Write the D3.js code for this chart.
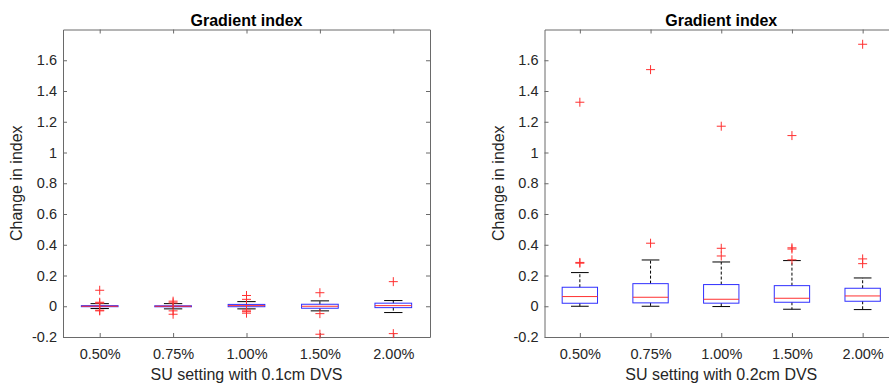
<!DOCTYPE html>
<html>
<head>
<meta charset="utf-8">
<script src="https://cdn.jsdelivr.net/npm/d3@7/dist/d3.min.js"></script>
<style>
  html, body { margin: 0; padding: 0; background: #fff; }
  svg { display: block; font-family: "Liberation Sans", Arial, Helvetica, sans-serif; }
</style>
</head>
<body>
<div id="chart"></div>
<script>
// categories and axis ticks
const categories = ["0.50%", "0.75%", "1.00%", "1.50%", "2.00%"];
const yTicks = [-0.2, 0, 0.2, 0.4, 0.6, 0.8, 1, 1.2, 1.4, 1.6];

// left panel: 0.1cm DVS
const leftQ1 = [-0.003, -0.003, -0.003, -0.013, -0.009];
const leftMedian = [0, 0, 0.004, 0, 0.004];
const leftQ3 = [0.004, 0.003, 0.012, 0.013, 0.02];
const leftLow = [-0.015, -0.017, -0.017, -0.03, -0.041];
const leftHigh = [0.017, 0.017, 0.03, 0.035, 0.037];
const leftOutliers = [
  [0.104, 0.026, 0.02, -0.026, -0.03],
  [0.033, 0.022, -0.03, -0.052],
  [0.07, 0.045, -0.025, -0.035, -0.045],
  [0.088, -0.048, -0.182],
  [0.16, -0.178]
];

// right panel: 0.2cm DVS
const rightQ1 = [0.0195, 0.022, 0.02, 0.026, 0.0325];
const rightMedian = [0.063, 0.0585, 0.0455, 0.052, 0.067];
const rightQ3 = [0.1236, 0.147, 0.141, 0.134, 0.117];
const rightLow = [0, 0, -0.002, -0.0195, -0.0217];
const rightHigh = [0.219, 0.301, 0.288, 0.297, 0.184];
const rightOutliers = [
  [1.327, 0.285, 0.28],
  [1.539, 0.41],
  [1.171, 0.377, 0.327],
  [1.11, 0.38, 0.372, 0.302],
  [1.704, 0.308, 0.277]
];

const width = 889;
const height = 386;
const textColor = "#262626";
const axisColor = "#6a6a6a";
const boxColor = "#2f2fff";
const redColor = "#ff3030";

const svg = d3.select("#chart").append("svg")
  .attr("width", width)
  .attr("height", height);

function drawPanel(opts) {
  const { left, right, top, bottom, q1, median, q3, low, high, outliers, xLabel } = opts;

  const x = d3.scaleLinear().domain([0.5, categories.length + 0.5]).range([left, right]);
  const y = d3.scaleLinear().domain([-0.2, 1.8]).range([bottom, top]);
  const step = x(2) - x(1);

  const g = svg.append("g");

  const fmt = d => String(+d.toFixed(1));

  const yAxis = g.append("g")
    .attr("transform", `translate(${left},0)`)
    .call(d3.axisLeft(y).tickValues(yTicks).tickFormat(fmt).tickSizeInner(-4).tickSizeOuter(0).tickPadding(6));
  const yAxisR = g.append("g")
    .attr("transform", `translate(${right},0)`)
    .call(d3.axisRight(y).tickValues(yTicks).tickFormat("").tickSizeInner(-4).tickSizeOuter(0));
  const xAxis = g.append("g")
    .attr("transform", `translate(0,${bottom})`)
    .call(d3.axisBottom(x).tickValues(d3.range(1, categories.length + 1))
      .tickFormat((d, i) => categories[i]).tickSizeInner(-4).tickSizeOuter(0).tickPadding(12));
  const xAxisT = g.append("g")
    .attr("transform", `translate(0,${top})`)
    .call(d3.axisTop(x).tickValues(d3.range(1, categories.length + 1))
      .tickFormat("").tickSizeInner(-4).tickSizeOuter(0));

  [yAxis, yAxisR, xAxis, xAxisT].forEach(a => {
    a.selectAll("path, line").attr("stroke", axisColor).attr("stroke-width", 1);
    a.selectAll("text").attr("fill", textColor).style("font-size", "14.5px")
      .style("font-family", '"Liberation Sans", Arial, sans-serif');
  });

  const boxes = g.append("g").selectAll("g")
    .data(categories.map((c, i) => ({
      i: i + 1, q1: q1[i], med: median[i], q3: q3[i], lo: low[i], hi: high[i], out: outliers[i]
    })))
    .enter().append("g");

  // whiskers
  boxes.append("line")
    .attr("x1", d => x(d.i)).attr("x2", d => x(d.i))
    .attr("y1", d => y(d.q3)).attr("y2", d => y(d.hi))
    .attr("stroke", "#000").attr("stroke-dasharray", "3,2");
  boxes.append("line")
    .attr("x1", d => x(d.i)).attr("x2", d => x(d.i))
    .attr("y1", d => y(d.q1)).attr("y2", d => y(d.lo))
    .attr("stroke", "#000").attr("stroke-dasharray", "3,2");

  // caps
  ["hi", "lo"].forEach(k => {
    boxes.append("line")
      .attr("x1", d => x(d.i) - step / 8).attr("x2", d => x(d.i) + step / 8)
      .attr("y1", d => y(d[k])).attr("y2", d => y(d[k]))
      .attr("stroke", "#000");
  });

  boxes.append("rect")
    .attr("x", d => x(d.i) - step / 4)
    .attr("width", step / 2)
    .attr("y", d => y(d.q3))
    .attr("height", d => Math.max(1, y(d.q1) - y(d.q3)))
    .attr("fill", "none")
    .attr("stroke", boxColor);

  boxes.append("line")
    .attr("x1", d => x(d.i) - step / 4).attr("x2", d => x(d.i) + step / 4)
    .attr("y1", d => y(d.med)).attr("y2", d => y(d.med))
    .attr("stroke", redColor);

  // outliers as '+'
  const plus = boxes.selectAll("g.out")
    .data(d => d.out.map(v => ({ i: d.i, v })))
    .enter().append("g")
    .attr("class", "out")
    .attr("transform", d => `translate(${x(d.i)},${y(d.v)})`);
  plus.append("line").attr("x1", -4.5).attr("x2", 4.5).attr("stroke", redColor);
  plus.append("line").attr("y1", -4.5).attr("y2", 4.5).attr("stroke", redColor);

  const cx = (left + right) / 2;
  g.append("text")
    .attr("x", cx).attr("y", 26)
    .attr("text-anchor", "middle")
    .attr("fill", "#000")
    .style("font-size", "16px").style("font-weight", "bold")
    .text("Gradient index");

  g.append("text")
    .attr("x", cx).attr("y", 380)
    .attr("text-anchor", "middle")
    .attr("fill", textColor)
    .style("font-size", "16px")
    .text(xLabel);

  g.append("text")
    .attr("transform", `translate(${left - 41},${(top + bottom) / 2}) rotate(-90)`)
    .attr("text-anchor", "middle")
    .attr("fill", textColor)
    .style("font-size", "16px")
    .text("Change in index");
}

drawPanel({
  left: 63, right: 430, top: 29.5, bottom: 337,
  q1: leftQ1, median: leftMedian, q3: leftQ3, low: leftLow, high: leftHigh,
  outliers: leftOutliers, xLabel: "SU setting with 0.1cm DVS"
});

drawPanel({
  left: 544.5, right: 898, top: 29.5, bottom: 337,
  q1: rightQ1, median: rightMedian, q3: rightQ3, low: rightLow, high: rightHigh,
  outliers: rightOutliers, xLabel: "SU setting with 0.2cm DVS"
});
</script>
</body>
</html>
